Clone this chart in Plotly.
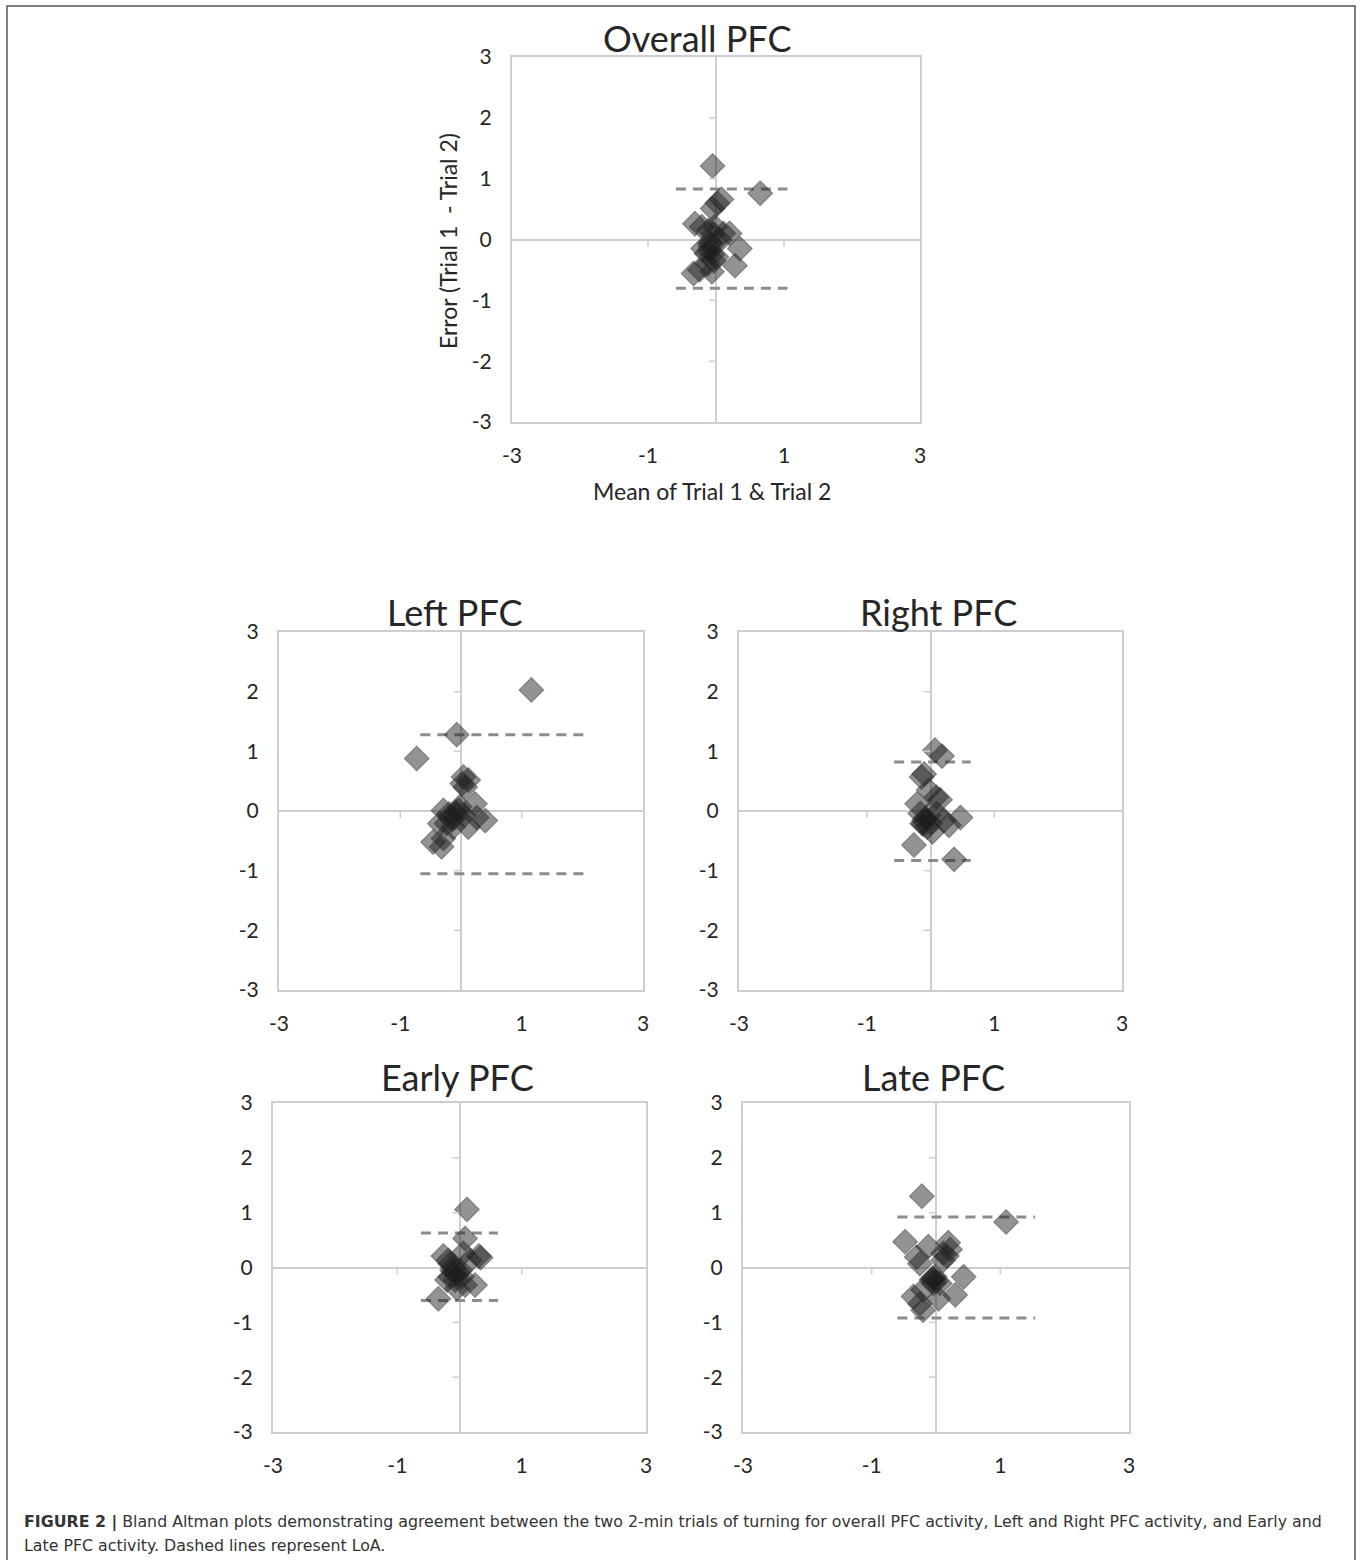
import plotly.graph_objects as go

W, H = 1363, 1560

# ---------------- data ----------------
panel_titles = ["Overall PFC", "Left PFC", "Right PFC", "Early PFC", "Late PFC"]

overall_x = [-0.05, 0.65, 0.08, 0.02, -0.05, -0.31, -0.21, 0.20, 0.35, 0.28, -0.33, -0.24, -0.06,
             -0.09, -0.04, -0.14, 0.01, 0.06, -0.19, -0.11, -0.02, 0.11, -0.08, -0.03, -0.12,
             -0.07, -0.10, -0.05]
overall_y = [1.21, 0.76, 0.66, 0.60, 0.51, 0.26, 0.21, 0.10, -0.15, -0.43, -0.56, -0.50, -0.53,
             -0.07, 0.10, -0.23, -0.29, -0.01, -0.15, 0.15, 0.21, 0.10, -0.12, -0.35, -0.40,
             -0.05, -0.18, -0.25]

left_x = [1.16, -0.07, -0.73, 0.04, 0.12, 0.07, 0.02, 0.23, 0.40, 0.26, -0.29, -0.18, -0.10,
          -0.24, -0.04, -0.02, -0.13, -0.35, -0.46, -0.32, -0.29, 0.12, -0.15, -0.20, 0.05,
          -0.12, -0.08]
left_y = [2.03, 1.28, 0.88, 0.57, 0.52, 0.40, 0.46, 0.12, -0.16, -0.11, 0.01, -0.10, -0.04,
          -0.21, 0.01, 0.07, -0.27, -0.21, -0.52, -0.60, -0.46, -0.27, -0.15, -0.05, -0.08,
          -0.12, -0.02]

right_x = [0.07, 0.18, -0.14, -0.10, -0.03, 0.15, 0.09, -0.21, 0.47, 0.29, 0.21, -0.26, 0.37,
           -0.10, -0.16, -0.05, 0.03, -0.13, -0.03, 0.10, -0.08, 0.00, -0.11, -0.06]
right_y = [1.02, 0.92, 0.57, 0.62, 0.35, 0.19, 0.23, 0.12, -0.11, -0.24, -0.16, -0.57, -0.81,
           -0.16, -0.04, -0.27, -0.35, -0.21, -0.07, -0.04, -0.12, -0.20, -0.22, -0.14]

early_x = [0.12, 0.09, 0.31, 0.34, -0.26, -0.18, -0.34, 0.25, 0.09, -0.04, 0.06, 0.17, -0.10,
           -0.04, -0.15, 0.01, -0.12, -0.20, -0.07, 0.04, -0.15, -0.08, -0.09, -0.05]
early_y = [1.06, 0.53, 0.21, 0.18, 0.21, 0.13, -0.57, -0.32, -0.32, -0.38, 0.26, 0.13, 0.01,
           -0.11, -0.17, -0.05, -0.05, -0.23, -0.23, -0.17, 0.07, -0.02, -0.08, -0.14]

late_x = [-0.22, 1.09, -0.48, -0.12, 0.19, 0.22, 0.17, 0.11, -0.30, -0.25, 0.43, 0.30, 0.04,
          -0.07, -0.02, -0.04, -0.20, -0.35, -0.25, -0.20, 0.06, 0.11, -0.05, 0.00, -0.03]
late_y = [1.30, 0.83, 0.47, 0.38, 0.45, 0.33, 0.21, 0.13, 0.19, 0.07, -0.17, -0.50, -0.57,
          -0.23, -0.17, -0.29, -0.41, -0.53, -0.66, -0.78, -0.29, 0.26, -0.20, -0.25, -0.22]

# limits of agreement: upper, lower, and x-extent of dashed lines
loa_upper = [0.83, 1.28, 0.82, 0.63, 0.92]
loa_lower = [-0.80, -1.05, -0.83, -0.60, -0.92]
loa_x_start = [-0.59, -0.67, -0.57, -0.62, -0.60]
loa_x_end = [1.05, 2.02, 0.63, 0.62, 1.54]

x_ticks = [-3, -1, 1, 3]
x_ticktext = ["-3", "-1", "1", "3"]
y_ticks = [-3, -2, -1, 0, 1, 2, 3]
y_ticktext = ["-3", "-2", "-1", "0", "1", "2", "3"]
x_title = "Mean of Trial 1 & Trial 2"
y_title = "Error (Trial 1  - Trial 2)"
caption_1 = ("<b>FIGURE 2 |</b> Bland Altman plots demonstrating agreement between the two 2-min trials "
             "of turning for overall PFC activity, Left and Right PFC activity, and Early and")
caption_2 = "Late PFC activity. Dashed lines represent LoA."

xs = [overall_x, left_x, right_x, early_x, late_x]
ys = [overall_y, left_y, right_y, early_y, late_y]

# ---------------- layout geometry (pixels) ----------------
boxes = [  # left, right, top, bottom
    (512, 920, 57, 422),
    (279, 643, 632, 990),
    (739, 1122, 632, 990),
    (273, 646, 1103, 1432),
    (743, 1129, 1103, 1432),
]
title_pos = [(697, 38), (455, 612), (938, 612), (457, 1077), (933, 1077)]

FONT = "Lato"
TXT = "#262626"
FRAME = "#cdcdd2"

fig = go.Figure()
layout = dict(
    width=W, height=H, margin=dict(l=0, r=0, t=0, b=0, autoexpand=False),
    paper_bgcolor="white", plot_bgcolor="white", showlegend=False,
    font=dict(family=FONT, color=TXT),
)
shapes = []
annotations = []

for i in range(5):
    xa = "x" if i == 0 else f"x{i+1}"
    ya = "y" if i == 0 else f"y{i+1}"
    l, r, t, b = boxes[i]
    for v in (loa_upper[i], loa_lower[i]):
        fig.add_trace(go.Scatter(
            x=[loa_x_start[i], loa_x_end[i]], y=[v, v], mode="lines",
            line=dict(color="#8c8c8c", width=3, dash="10px,7px"),
            xaxis=xa, yaxis=ya, hoverinfo="skip"))
    fig.add_trace(go.Scatter(
        x=xs[i], y=ys[i], mode="markers",
        marker=dict(symbol="diamond", size=19, color="rgba(30,30,30,0.48)",
                    line=dict(color="rgba(60,60,60,0.45)", width=1.2)),
        xaxis=xa, yaxis=ya))

    xkey = "xaxis" if i == 0 else f"xaxis{i+1}"
    ykey = "yaxis" if i == 0 else f"yaxis{i+1}"
    common = dict(
        range=[-3, 3], automargin=False,
        showgrid=False, zeroline=True, zerolinecolor=FRAME, zerolinewidth=1.5,
        showline=True, mirror=True, linecolor=FRAME, linewidth=2,
        ticks="outside", ticklen=14, tickcolor="rgba(0,0,0,0)",
        tickfont=dict(size=21, family=FONT, color=TXT),
    )
    layout[xkey] = dict(domain=[l / W, r / W], anchor=ya, tickvals=x_ticks, ticktext=x_ticktext, **common)
    layout[ykey] = dict(domain=[1 - b / H, 1 - t / H], anchor=xa, tickvals=y_ticks, ticktext=y_ticktext,
                        **common)
    for v in y_ticks[1:-1]:
        if v == 0:
            continue
        shapes.append(dict(type="line", xref=xa, yref=ya, xsizemode="pixel", xanchor=0,
                           x0=-7, x1=0, y0=v, y1=v, line=dict(color=FRAME, width=1.5)))
    for v in x_ticks[1:-1]:
        shapes.append(dict(type="line", xref=xa, yref=ya, ysizemode="pixel", yanchor=0,
                           y0=-7, y1=0, x0=v, x1=v, line=dict(color=FRAME, width=1.5)))
    tx, tyy = title_pos[i]
    annotations.append(dict(text=panel_titles[i], x=tx / W, y=1 - tyy / H, xref="paper", yref="paper",
                            xanchor="center", yanchor="middle", showarrow=False,
                            font=dict(size=36, family=FONT, color=TXT)))

annotations.append(dict(text=x_title, x=712 / W, y=1 - 491 / H, xref="paper", yref="paper",
                        xanchor="center", yanchor="middle", showarrow=False,
                        font=dict(size=23, family=FONT, color=TXT)))
annotations.append(dict(text=y_title, x=448 / W, y=1 - 241 / H, xref="paper", yref="paper",
                        xanchor="center", yanchor="middle", showarrow=False, textangle=-90,
                        font=dict(size=23, family=FONT, color=TXT)))
annotations.append(dict(text=caption_1, x=22 / W, y=1 - 1522 / H, xref="paper", yref="paper",
                        xanchor="left", yanchor="middle", showarrow=False,
                        font=dict(size=15.8, family="DejaVu Sans", color="#333333")))
annotations.append(dict(text=caption_2, x=22 / W, y=1 - 1545 / H, xref="paper", yref="paper",
                        xanchor="left", yanchor="middle", showarrow=False,
                        font=dict(size=15.8, family="DejaVu Sans", color="#333333")))
shapes.append(dict(type="rect", xref="paper", yref="paper", x0=7 / W, x1=1355 / W,
                   y0=-0.01, y1=1 - 6 / H, line=dict(color="#555555", width=1.5), layer="below"))

layout["shapes"] = shapes
layout["annotations"] = annotations
fig.update_layout(**layout)

fig.write_html("out.html", config={"displayModeBar": False},
               post_script="document.body.style.margin='0';document.body.style.padding='0';")
